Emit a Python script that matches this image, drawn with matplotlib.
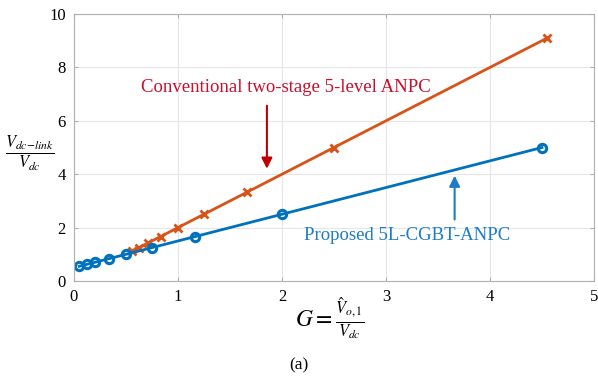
import matplotlib
matplotlib.use('Agg')
import matplotlib.pyplot as plt

plt.rcParams['font.family'] = ['Liberation Serif', 'DejaVu Serif']
plt.rcParams['mathtext.fontset'] = 'stix'

# proposed 5L-CGBT-ANPC
g_prop = [0.05, 0.125, 0.2, 0.333, 0.5, 0.75, 1.167, 2.0, 4.5]
v_prop = [0.55, 0.625, 0.7, 0.833, 1.0, 1.25, 1.667, 2.5, 5.0]
# conventional two-stage 5-level ANPC
g_conv = [0.556, 0.625, 0.714, 0.833, 1.0, 1.25, 1.667, 2.5, 4.545]
v_conv = [1.111, 1.25, 1.429, 1.667, 2.0, 2.5, 3.333, 5.0, 9.09]

x_ticks = [0, 1, 2, 3, 4, 5]
y_ticks = [0, 2, 4, 6, 8, 10]

blue = '#0072BD'
orange = '#D95319'

fig = plt.figure(figsize=(5.98, 3.77), dpi=100)
ax = fig.add_axes([0.1237, 0.2546, 0.8696, 0.7083])

ax.plot(g_conv, v_conv, color=orange, lw=2, marker='x', ms=6, mew=2)
ax.plot(g_prop, v_prop, color=blue, lw=2, marker='o', ms=6, mew=2.2, mfc='none')

ax.set_xlim(0, 5)
ax.set_ylim(0, 10)
ax.set_xticks(x_ticks)
ax.set_yticks(y_ticks)
ax.grid(True, color='#e6e6e6', lw=0.8)
ax.set_axisbelow(True)
for s in ax.spines.values():
    s.set_color('#b0b0b0')
ax.tick_params(direction='in', length=3, color='#b0b0b0', labelsize=12,
               top=True, right=True, pad=6)

ax.text(2.04, 7.23, 'Conventional two-stage 5-level ANPC', color='#C8102E',
        fontsize=13.5, ha='center', va='center')
ax.annotate('', xy=(1.855, 4.1), xytext=(1.855, 6.67),
            arrowprops=dict(arrowstyle='-|>', color='#C00000', lw=1.5,
                            mutation_scale=16))
ax.text(3.2, 1.72, 'Proposed 5L-CGBT-ANPC', color='#1B7CC8',
        fontsize=13.5, ha='center', va='center')
ax.annotate('', xy=(3.66, 4.05), xytext=(3.66, 2.2),
            arrowprops=dict(arrowstyle='-|>', color='#1B7CC8', lw=1.5,
                            mutation_scale=16))

fig.text(0.552, 0.155, r'$G=\frac{\hat{V}_{o,1}}{V_{dc}}$', fontsize=17,
         ha='center', va='center')
fig.text(0.05, 0.595, r'$\frac{V_{dc\!-\!link}}{V_{dc}}$', fontsize=17,
         ha='center', va='center')
fig.text(0.5, 0.03, '(a)', fontsize=12.5, ha='center', va='center')

fig.savefig('out.png', dpi=100)
